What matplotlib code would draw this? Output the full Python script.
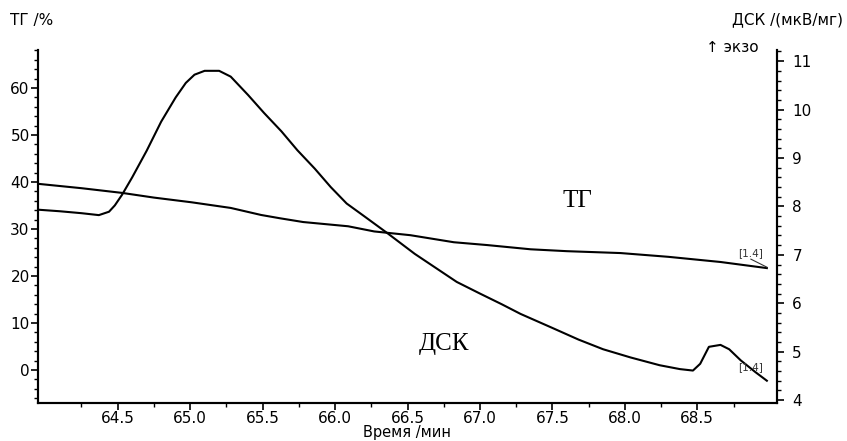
import numpy as np
import matplotlib.pyplot as plt
from matplotlib.ticker import MultipleLocator, FormatStrFormatter

# TG curve, % (left axis)
tg_time = [63.96, 64.25, 64.53, 64.75, 65.01, 65.28, 65.49, 65.62, 65.78,
           66.09, 66.27, 66.52, 66.82, 67.05, 67.35, 67.6, 67.97,
           68.3, 68.66, 68.98]
tg_val = [39.6, 38.7, 37.7, 36.7, 35.7, 34.5, 33.0, 32.3, 31.5,
          30.6, 29.5, 28.7, 27.2, 26.6, 25.7, 25.3, 24.9,
          24.1, 23.0, 21.7]

# DSC curve, uV/mg (right axis)
dsc_time = [63.96, 64.1, 64.25, 64.37, 64.44, 64.48, 64.53, 64.6, 64.7,
            64.8, 64.9, 64.97, 65.03, 65.1, 65.2, 65.28, 65.4, 65.51,
            65.63, 65.74, 65.86, 65.97, 66.08, 66.2, 66.36, 66.55, 66.7,
            66.84, 67.0, 67.15, 67.28, 67.5, 67.68, 67.85, 68.04, 68.24,
            68.38, 68.47, 68.52, 68.58, 68.66, 68.72, 68.8, 68.9, 68.98]
dsc_val = [7.93, 7.9, 7.86, 7.82, 7.89, 8.02, 8.24, 8.6, 9.15,
           9.75, 10.25, 10.55, 10.72, 10.8, 10.8, 10.68, 10.3, 9.93,
           9.55, 9.16, 8.78, 8.4, 8.06, 7.8, 7.45, 7.02, 6.72,
           6.44, 6.2, 5.98, 5.78, 5.49, 5.25, 5.05, 4.88, 4.72,
           4.64, 4.61, 4.75, 5.1, 5.14, 5.05, 4.82, 4.58, 4.4]

sans = ['DejaVu Sans']
serif = ['Liberation Serif', 'DejaVu Serif']
plt.rcParams['font.family'] = sans

fig = plt.figure(figsize=(8.47, 4.41), dpi=100)
ax = fig.add_axes([38 / 847, 38 / 441, 739 / 847, 353 / 441])
ax2 = ax.twinx()

ax.plot(tg_time, tg_val, color='black', lw=1.5)
ax2.plot(dsc_time, dsc_val, color='black', lw=1.5)

ax.set_xlim(63.95, 69.05)
ax.set_ylim(-7.0, 68.1)
ax2.set_ylim(3.94, 11.23)

for a in (ax, ax2):
    a.spines['top'].set_visible(False)
    for s in a.spines.values():
        s.set_linewidth(1.5)
    a.tick_params(which='major', direction='out', length=5, width=1.2,
                  labelsize=11, pad=2)
    a.tick_params(which='minor', direction='out', length=3, width=1.0)

ax.set_xticks([64.5, 65.0, 65.5, 66.0, 66.5, 67.0, 67.5, 68.0, 68.5])
ax.set_xticks([64.25, 64.75, 65.25, 65.75, 66.25, 66.75, 67.25, 67.75,
               68.25, 68.75], minor=True)
ax.xaxis.set_major_formatter(FormatStrFormatter('%.1f'))
ax.tick_params(axis='x', pad=1)
ax.yaxis.set_major_locator(MultipleLocator(10))
ax.yaxis.set_minor_locator(MultipleLocator(2))
ax.tick_params(axis='y', pad=1)
ax2.yaxis.set_major_locator(MultipleLocator(1))
ax2.yaxis.set_minor_locator(MultipleLocator(0.2))
ax2.tick_params(axis='y', pad=6)

fig.text(407 / 847, 1 / 441, 'Время /мин', fontsize=10.5, ha='center',
         va='bottom')
fig.text(10 / 847, 1 - 20 / 441, 'ТГ /%', fontsize=11, va='center', ha='left')
fig.text(843 / 847, 1 - 20 / 441, 'ДСК /(мкВ/мг)', fontsize=11,
         va='center', ha='right')
fig.text(706 / 847, 1 - 47 / 441, '↑ экзо', fontsize=11, va='center',
         ha='left')

ax.text(67.67, 36.0, 'ТГ', family=serif, fontsize=18, ha='center',
        va='center')
ax.text(66.75, 5.5, 'ДСК', family=serif, fontsize=18, ha='center',
        va='center')

ax.text(68.87, 24.9, '[1.4]', fontsize=7.5, color='#333333', ha='center',
        va='center')
ax.plot([68.87, 68.98], [23.6, 21.9], color='#333333', lw=0.8)
ax2.text(68.87, 4.69, '[1.4]', fontsize=7.5, color='#333333', ha='center',
         va='center')

fig.savefig('out.png', dpi=100)
